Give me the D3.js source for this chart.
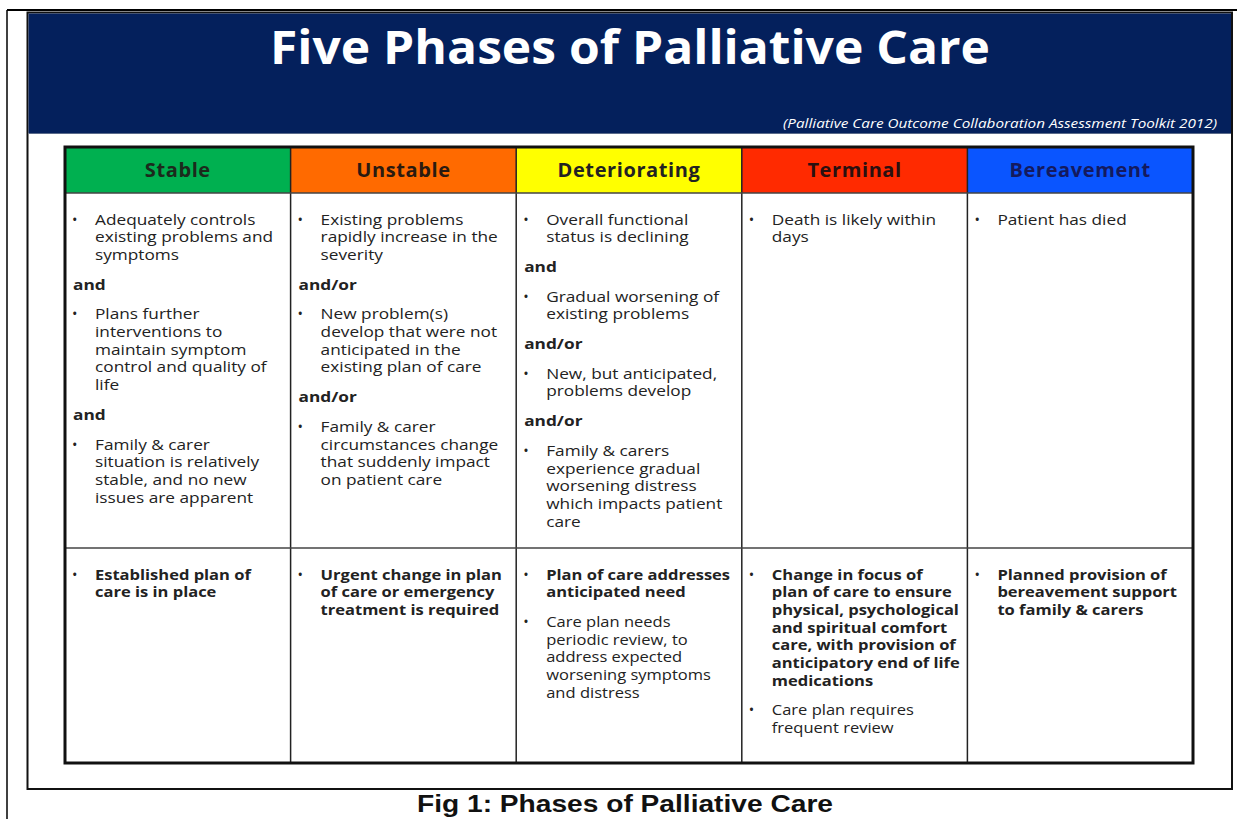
<!DOCTYPE html>
<html>
<head>
<meta charset="utf-8">
<script src="https://cdn.jsdelivr.net/npm/d3@7/dist/d3.min.js"></script>
<style>
  html, body { margin: 0; padding: 0; background: #fff; }
  svg { display: block; }
</style>
</head>
<body>
<svg id="chart" width="1237" height="819"></svg>
<script>
// ---------- DATA ----------
const title = "Five Phases of Palliative Care";
const source = "(Palliative Care Outcome Collaboration Assessment Toolkit 2012)";
const caption = "Fig 1: Phases of Palliative Care";

const phases = ["Stable", "Unstable", "Deteriorating", "Terminal", "Bereavement"];
const phaseColors = ["#00b050", "#ff6a00", "#ffff00", "#ff2a00", "#0a55ff"];
const phaseTextColors = ["#1c2a1c", "#2a1a10", "#222222", "#2a1010", "#141a5e"];

// Row 1: characteristics. Each block: kind "b" = bullet item, "c" = conjunction
const stableDesc = [
  {kind: "b", lines: ["Adequately controls", "existing problems and", "symptoms"]},
  {kind: "c", lines: ["and"]},
  {kind: "b", lines: ["Plans further", "interventions to", "maintain symptom", "control and quality of", "life"]},
  {kind: "c", lines: ["and"]},
  {kind: "b", lines: ["Family & carer", "situation is relatively", "stable, and no new", "issues are apparent"]}
];
const unstableDesc = [
  {kind: "b", lines: ["Existing problems", "rapidly increase in the", "severity"]},
  {kind: "c", lines: ["and/or"]},
  {kind: "b", lines: ["New problem(s)", "develop that were not", "anticipated in the", "existing plan of care"]},
  {kind: "c", lines: ["and/or"]},
  {kind: "b", lines: ["Family & carer", "circumstances change", "that suddenly impact", "on patient care"]}
];
const deterioratingDesc = [
  {kind: "b", lines: ["Overall functional", "status is declining"]},
  {kind: "c", lines: ["and"]},
  {kind: "b", lines: ["Gradual worsening of", "existing problems"]},
  {kind: "c", lines: ["and/or"]},
  {kind: "b", lines: ["New, but anticipated,", "problems develop"]},
  {kind: "c", lines: ["and/or"]},
  {kind: "b", lines: ["Family & carers", "experience gradual", "worsening distress", "which impacts patient", "care"]}
];
const terminalDesc = [
  {kind: "b", lines: ["Death is likely within", "days"]}
];
const bereavementDesc = [
  {kind: "b", lines: ["Patient has died"]}
];

// Row 2: care plan
const stablePlan = [
  {kind: "b", bold: true, lines: ["Established plan of", "care is in place"]}
];
const unstablePlan = [
  {kind: "b", bold: true, lines: ["Urgent change in plan", "of care or emergency", "treatment is required"]}
];
const deterioratingPlan = [
  {kind: "b", bold: true, lines: ["Plan of care addresses", "anticipated need"]},
  {kind: "b", lines: ["Care plan needs", "periodic review, to", "address expected", "worsening symptoms", "and distress"]}
];
const terminalPlan = [
  {kind: "b", bold: true, lines: ["Change in focus of", "plan of care to ensure", "physical, psychological", "and spiritual comfort", "care, with provision of", "anticipatory end of life", "medications"]},
  {kind: "b", lines: ["Care plan requires", "frequent review"]}
];
const bereavementPlan = [
  {kind: "b", bold: true, lines: ["Planned provision of", "bereavement support", "to family & carers"]}
];

const descRows = [stableDesc, unstableDesc, deterioratingDesc, terminalDesc, bereavementDesc];
const planRows = [stablePlan, unstablePlan, deterioratingPlan, terminalPlan, bereavementPlan];

// ---------- LAYOUT ----------
const svg = d3.select("#chart");
const W = 1237, H = 819;
const FONT = "'Open Sans', Lato, sans-serif";

const tableLeft = 65, tableRight = 1193;
const headerTop = 147, headerBottom = 193, rowSplit = 548, tableBottom = 763;

const x = d3.scaleBand().domain(phases).range([tableLeft, tableRight]).paddingInner(0).paddingOuter(0);
const colorScale = d3.scaleOrdinal().domain(phases).range(phaseColors);
const textColorScale = d3.scaleOrdinal().domain(phases).range(phaseTextColors);

// outer page frame
svg.append("line").attr("x1", 7).attr("x2", W).attr("y1", 10).attr("y2", 10)
  .attr("stroke", "#000").attr("stroke-width", 2);
svg.append("line").attr("x1", 7).attr("x2", 7).attr("y1", 10).attr("y2", H)
  .attr("stroke", "#000").attr("stroke-width", 1.5);

// inner image frame
svg.append("rect").attr("x", 27.5).attr("y", 12.5).attr("width", 1232 - 27.5).attr("height", 789 - 12.5)
  .attr("fill", "#fff").attr("stroke", "#111").attr("stroke-width", 2);

// banner
svg.append("rect").attr("x", 28.5).attr("y", 13.5).attr("width", 1231 - 28.5).attr("height", 133 - 13.5)
  .attr("fill", "#04205c");
svg.append("line").attr("x1", 28.5).attr("x2", 1231).attr("y1", 133.5).attr("y2", 133.5)
  .attr("stroke", "#5a6a8a").attr("stroke-width", 1);

svg.append("text").attr("x", 270).attr("y", 64)
  .attr("fill", "#ffffff")
  .attr("font-family", FONT).attr("font-weight", 700).attr("font-size", 46)
  .attr("textLength", 720).attr("lengthAdjust", "spacingAndGlyphs")
  .text(title);

svg.append("text").attr("x", 783).attr("y", 128)
  .attr("fill", "#ffffff")
  .attr("font-family", FONT).attr("font-style", "italic").attr("font-size", 13.5)
  .attr("textLength", 434).attr("lengthAdjust", "spacingAndGlyphs")
  .text(source);

// header cells
const header = svg.append("g");
header.selectAll("rect").data(phases).join("rect")
  .attr("x", d => x(d)).attr("y", headerTop)
  .attr("width", x.bandwidth()).attr("height", headerBottom - headerTop)
  .attr("fill", d => colorScale(d));
header.selectAll("text").data(phases).join("text")
  .attr("x", d => x(d) + x.bandwidth() / 2)
  .attr("y", 177)
  .attr("text-anchor", "middle")
  .attr("font-family", FONT).attr("font-weight", 700).attr("font-size", 20)
  .attr("letter-spacing", 0.6)
  .attr("fill", d => textColorScale(d))
  .text(d => d);

// grid lines
const grid = svg.append("g").attr("stroke", "#222");
grid.selectAll("line.v").data(phases.slice(1)).join("line")
  .attr("class", "v")
  .attr("x1", d => x(d)).attr("x2", d => x(d))
  .attr("y1", headerTop).attr("y2", tableBottom)
  .attr("stroke-width", 1.5);
grid.append("line").attr("x1", tableLeft).attr("x2", tableRight)
  .attr("y1", headerBottom).attr("y2", headerBottom).attr("stroke-width", 1.5).attr("stroke", "#444");
grid.append("line").attr("x1", tableLeft).attr("x2", tableRight)
  .attr("y1", rowSplit).attr("y2", rowSplit).attr("stroke-width", 1.5).attr("stroke", "#444");
svg.append("rect").attr("x", tableLeft).attr("y", headerTop)
  .attr("width", tableRight - tableLeft).attr("height", tableBottom - headerTop)
  .attr("fill", "none").attr("stroke", "#111").attr("stroke-width", 3);

// cell text (glyphs slightly widened horizontally, as in the reference image)
const lineH = 17.7, blockGap = 12;
function drawCell(blocks, phase, top, fs, sx) {
  const g = svg.append("g");
  const x0 = x(phase);
  let y = top + 26 + 5.5;
  blocks.forEach((blk, bi) => {
    if (bi > 0) y += blockGap;
    const isBold = (blk.kind === "c" || blk.bold);
    if (blk.kind === "b") {
      g.append("text").attr("x", x0 + 7).attr("y", y)
        .attr("font-family", FONT).attr("font-size", 14.5).attr("fill", "#222")
        .text("\u2022");
    }
    blk.lines.forEach((ln, li) => {
      const tx = blk.kind === "b" ? x0 + 30 : x0 + 8;
      g.append("text")
        .attr("transform", `translate(${tx},${y}) scale(${sx},1)`)
        .attr("font-family", FONT).attr("font-size", fs)
        .attr("font-weight", isBold ? 700 : 400).attr("fill", "#222")
        .text(ln);
      if (li < blk.lines.length - 1) y += lineH;
    });
    y += lineH;
  });
}
phases.forEach((p, i) => {
  drawCell(descRows[i], p, headerBottom, 14.5, 1.19);
  drawCell(planRows[i], p, rowSplit, 14, 1.18);
});

// caption
svg.append("text").attr("x", 417).attr("y", 812)
  .attr("font-family", "'Liberation Sans Narrow', 'Arial Narrow', sans-serif")
  .attr("font-weight", 700).attr("font-size", 24)
  .attr("textLength", 416).attr("lengthAdjust", "spacingAndGlyphs")
  .attr("fill", "#111")
  .text(caption);
</script>
</body>
</html>
